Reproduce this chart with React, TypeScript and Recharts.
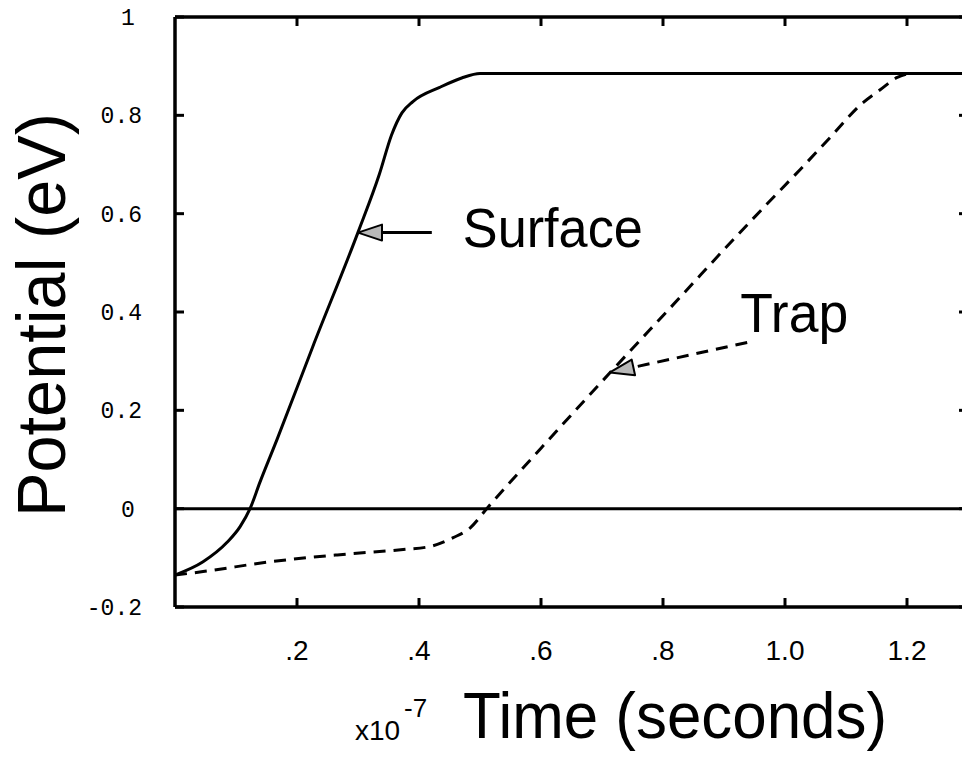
import { LineChart, Line, XAxis, YAxis, ReferenceLine, Label } from 'recharts';

// time in units of 1e-7 s, potential in eV
const surfaceTime = [0, 0.046, 0.085, 0.107, 0.123, 0.139, 0.167, 0.226, 0.3, 0.335, 0.355, 0.372, 0.39, 0.434, 0.47, 0.5, 1.3];
const surfaceVolts = [-0.135, -0.108, -0.069, -0.036, 0, 0.053, 0.14, 0.33, 0.562, 0.68, 0.76, 0.805, 0.828, 0.857, 0.876, 0.885, 0.885];

const trapTime = [0, 0.046, 0.156, 0.266, 0.374, 0.418, 0.456, 0.484, 0.511, 0.6, 0.718, 0.828, 0.915, 0.97, 1.025, 1.074, 1.128, 1.156, 1.184, 1.21, 1.3];
const trapVolts = [-0.135, -0.128, -0.108, -0.094, -0.083, -0.077, -0.059, -0.039, 0, 0.123, 0.283, 0.43, 0.547, 0.619, 0.69, 0.755, 0.826, 0.852, 0.877, 0.885, 0.885];

const xTicks = [0.2, 0.4, 0.6, 0.8, 1.0, 1.2];
const xTickLabels = ['.2', '.4', '.6', '.8', '1.0', '1.2'];
const yTicks = [-0.2, 0, 0.2, 0.4, 0.6, 0.8, 1];
const yTickLabels = ['-0.2', '0', '0.2', '0.4', '0.6', '0.8', '1'];

// callouts: text, arrow tail and arrow tip (data coords)
const calloutText = ['Surface', 'Trap'];
const calloutFromTime = [0.421, 0.938];
const calloutFromVolts = [0.5615, 0.338];
const calloutToTime = [0.3, 0.713];
const calloutToVolts = [0.5615, 0.277];

const surfaceData = surfaceTime.map((t, i) => ({ t, v: surfaceVolts[i] }));
const trapData = trapTime.map((t, i) => ({ t, v: trapVolts[i] }));

const SANS = 'Liberation Sans, Arial, Helvetica, sans-serif';
const MONO = 'Liberation Mono, DejaVu Sans Mono, monospace';
const DASH = '12 8';
const TICK = 9;
// recharts places the tick label at tickSize + tickMargin from the axis line
const T_SIZE = 4;
const T_MARGIN = 4;
const GAP = T_SIZE + T_MARGIN;
const AXIS = { stroke: '#000', strokeWidth: 3.5 };

const calloutStyle = [
  { dx: 31, dy: 14, width: 180, dashed: false },
  { dx: -7, dy: -10, width: 108, dashed: true },
];

// ticks point into the plot, so each tick draws its own mark
const YTick = (props: any) => {
  const { x, y, payload } = props;
  const ax = x + GAP;
  const label = yTickLabels[yTicks.indexOf(payload.value)] ?? String(payload.value);
  const whole = !label.includes('.');
  return (
    <g>
      <line x1={ax} y1={y} x2={ax + TICK} y2={y} stroke="#000" strokeWidth={3} />
      <text x={whole ? ax - 47 : ax - 33} y={y} dy={8} textAnchor={whole ? 'middle' : 'end'}
        fontFamily={MONO} fontSize={23} fill="#000">
        {label}
      </text>
    </g>
  );
};

const XTick = (props: any) => {
  const { x, y, payload } = props;
  const ay = y - GAP;
  const label = xTickLabels[xTicks.indexOf(payload.value)] ?? String(payload.value);
  return (
    <g>
      <line x1={x} y1={ay} x2={x} y2={ay - TICK} stroke="#000" strokeWidth={3} />
      <text x={x} y={ay + 53} textAnchor="middle" fontFamily={SANS} fontSize={28} fill="#000">
        {label}
      </text>
    </g>
  );
};

const TopTick = (props: any) => {
  const ay = props.y + GAP;
  return <line x1={props.x} y1={ay} x2={props.x} y2={ay + TICK} stroke="#000" strokeWidth={3} />;
};

const RightTick = (props: any) => {
  const ax = props.x - GAP;
  return <line x1={ax} y1={props.y} x2={ax - TICK} y2={props.y} stroke="#000" strokeWidth={3} />;
};

const TimeLabel = () => (
  <g fontFamily={SANS} fill="#000">
    <text x={355} y={740} fontSize={28}>x10</text>
    <text x={404} y={717} fontSize={26}>-7</text>
    <text x={463} y={738} fontSize={64} textLength={424} lengthAdjust="spacingAndGlyphs">Time (seconds)</text>
  </g>
);

const PotentialLabel = () => (
  <text x={65} y={315} transform="rotate(-90, 65, 315)" textAnchor="middle" fontFamily={SANS}
    fontSize={68} textLength={404} lengthAdjust="spacingAndGlyphs" fill="#000">
    Potential (eV)
  </text>
);

const makeCallout = (i: number) => (props: any) => {
  const { x1, y1, x2, y2 } = props;
  if ([x1, y1, x2, y2].some((n) => typeof n !== 'number')) return <g />;
  const s = calloutStyle[i];
  const ang = Math.atan2(y2 - y1, x2 - x1);
  const c = Math.cos(ang);
  const sn = Math.sin(ang);
  const len = 24;
  const half = 8;
  const bx = x2 - len * c;
  const by = y2 - len * sn;
  const pts = `${x2},${y2} ${bx - half * sn},${by + half * c} ${bx + half * sn},${by - half * c}`;
  return (
    <g>
      <line x1={x1} y1={y1} x2={bx} y2={by} stroke="#000" strokeWidth={3}
        strokeDasharray={s.dashed ? DASH : undefined} />
      <polygon points={pts} fill="#b8b8b8" stroke="#000" strokeWidth={2} strokeLinejoin="round" />
      <text x={x1 + s.dx} y={y1 + s.dy} fontFamily={SANS} fontSize={56} textLength={s.width}
        lengthAdjust="spacingAndGlyphs" fill="#000">
        {calloutText[i]}
      </text>
    </g>
  );
};

export default function App() {
  return (
    <div style={{ position: 'absolute', left: 0, top: 0, width: 962, height: 758, overflow: 'hidden', background: '#fff' }}>
      <LineChart width={990} height={758} margin={{ top: 16, right: 21, bottom: 0, left: 0 }}>
        <XAxis xAxisId="top" orientation="top" type="number" dataKey="t" domain={[0, 1.3]} ticks={xTicks}
          height={1} axisLine={AXIS} tickLine={false} tickSize={T_SIZE} tickMargin={T_MARGIN} tick={TopTick}
          allowDataOverflow />
        <XAxis type="number" dataKey="t" domain={[0, 1.3]} ticks={xTicks} height={151}
          axisLine={AXIS} tickLine={false} tickSize={T_SIZE} tickMargin={T_MARGIN} tick={XTick} allowDataOverflow>
          <Label content={TimeLabel} />
        </XAxis>
        <YAxis type="number" domain={[-0.2, 1]} ticks={yTicks} width={175}
          axisLine={AXIS} tickLine={false} tickSize={T_SIZE} tickMargin={T_MARGIN} tick={YTick} allowDataOverflow>
          <Label content={PotentialLabel} />
        </YAxis>
        <YAxis yAxisId="right" orientation="right" type="number" domain={[-0.2, 1]} ticks={yTicks} width={1}
          axisLine={AXIS} tickLine={false} tickSize={T_SIZE} tickMargin={T_MARGIN} tick={RightTick}
          allowDataOverflow />
        <ReferenceLine y={0} stroke="#000" strokeWidth={3} />
        <Line data={surfaceData} dataKey="v" type="monotone" stroke="#000" strokeWidth={3} dot={false}
          activeDot={false} isAnimationActive={false} />
        <Line data={trapData} dataKey="v" type="monotone" stroke="#000" strokeWidth={3} dot={false}
          strokeDasharray={DASH} activeDot={false} isAnimationActive={false} />
        {calloutText.map((_, i) => (
          <ReferenceLine key={i}
            segment={[{ x: calloutFromTime[i], y: calloutFromVolts[i] }, { x: calloutToTime[i], y: calloutToVolts[i] }]}
            shape={makeCallout(i)} />
        ))}
      </LineChart>
    </div>
  );
}
